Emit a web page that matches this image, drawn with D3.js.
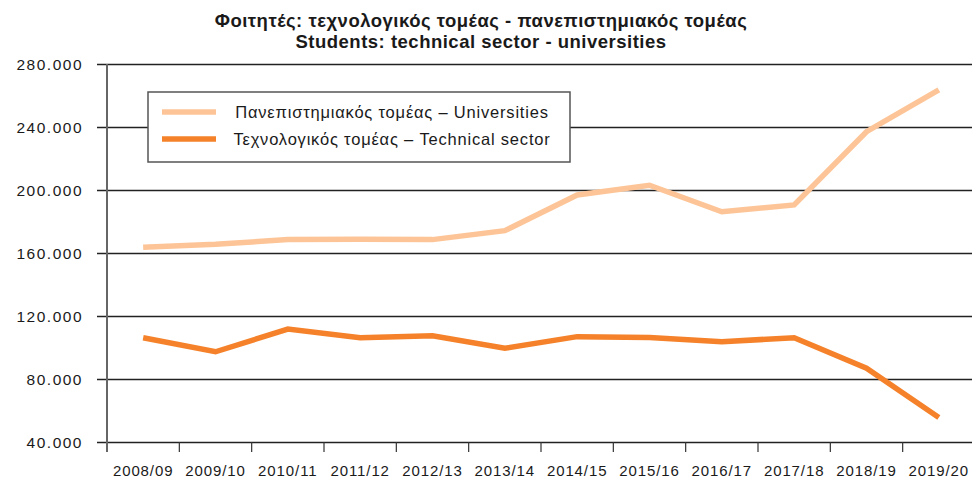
<!DOCTYPE html>
<html>
<head>
<meta charset="utf-8">
<script src="https://cdn.jsdelivr.net/npm/d3@7"></script>
<style>
  body { margin: 0; background: #fff; }
  text { font-family: "Liberation Sans", Arial, sans-serif; fill: #1a1a1a; }
</style>
</head>
<body>
<svg id="chart"></svg>
<script>
const years = ["2008/09", "2009/10", "2010/11", "2011/12", "2012/13", "2013/14",
  "2014/15", "2015/16", "2016/17", "2017/18", "2018/19", "2019/20"];
const universities = [163600, 165500, 168500, 168700, 168500, 174200,
  196800, 203000, 186200, 190500, 237000, 263500];
const technical = [106200, 97300, 111700, 106200, 107400, 99500,
  106900, 106400, 103700, 106200, 86800, 55600];
const yTicks = [40000, 80000, 120000, 160000, 200000, 240000, 280000];
const titleLines = [
  "Φοιτητές: τεχνολογικός τομέας - πανεπιστημιακός τομέας",
  "Students: technical sector - universities",
];
const seriesNames = [
  "Πανεπιστημιακός τομέας – Universities",
  "Τεχνολογικός τομέας – Technical sector",
];

const drawWidth = 972;
const drawHeight = 481;
const margin = { top: 64, right: -3, bottom: 39, left: 107 };
const width = drawWidth - margin.left - margin.right;
const height = drawHeight - margin.top - margin.bottom;

const uniColor = "#fdc597";
const techColor = "#f5822a";

const locale = d3.formatLocale({ decimal: ",", thousands: ".", grouping: [3], currency: ["€", ""] });
const formatNum = locale.format(",.0f");

const svg = d3.select("#chart")
  .attr("width", drawWidth)
  .attr("height", drawHeight);

// title
svg.append("g")
  .selectAll("text")
  .data(titleLines)
  .join("text")
  .attr("x", 481)
  .attr("y", (d, i) => 27 + i * 21)
  .attr("text-anchor", "middle")
  .style("font-weight", "bold")
  .style("font-size", "18.5px")
  .style("letter-spacing", "0.5px")
  .text((d) => d);

const g = svg.append("g")
  .attr("transform", "translate(" + margin.left + "," + margin.top + ")");

const xScale = d3.scaleBand()
  .domain(years)
  .range([0, width]);

const yScale = d3.scaleLinear()
  .domain([40000, 280000])
  .range([height, 0]);

// gridlines + y ticks
const yAxis = d3.axisLeft(yScale)
  .tickValues(yTicks)
  .tickFormat(formatNum)
  .tickSizeInner(-width)
  .tickSizeOuter(0)
  .tickPadding(24);

const yG = g.append("g").attr("class", "y axis").call(yAxis);
yG.select(".domain").remove();
yG.selectAll(".tick line")
  .attr("x1", -10)
  .attr("stroke", "#222")
  .attr("stroke-width", 1.3);
yG.selectAll(".tick text")
  .attr("dy", "0.36em")
  .style("font-size", "15.5px")
  .style("letter-spacing", "1.5px")
  .style("font-family", "'Liberation Sans', Arial, sans-serif")
  .attr("fill", "#1a1a1a");

// x axis ticks at band edges
const edges = years.map((d) => xScale(d));
g.append("g")
  .selectAll("line")
  .data(edges)
  .join("line")
  .attr("x1", (d) => d)
  .attr("x2", (d) => d)
  .attr("y1", height)
  .attr("y2", height + 10)
  .attr("stroke", "#333")
  .attr("stroke-width", 1.2);

g.append("g")
  .selectAll("text")
  .data(years)
  .join("text")
  .attr("x", (d) => xScale(d) + xScale.bandwidth() / 2)
  .attr("y", height + 34)
  .attr("text-anchor", "middle")
  .style("font-size", "15px")
  .style("letter-spacing", "0.9px")
  .text((d) => d);

// y axis line
g.append("line")
  .attr("x1", 0)
  .attr("x2", 0)
  .attr("y1", 0)
  .attr("y2", height + 10)
  .attr("stroke", "#666")
  .attr("stroke-width", 2);

const line = d3.line()
  .x((d, i) => xScale(years[i]) + xScale.bandwidth() / 2)
  .y((d) => yScale(d));

g.append("path")
  .datum(universities)
  .attr("fill", "none")
  .attr("stroke", uniColor)
  .attr("stroke-width", 5.5)
  .attr("d", line);

g.append("path")
  .datum(technical)
  .attr("fill", "none")
  .attr("stroke", techColor)
  .attr("stroke-width", 5.5)
  .attr("d", line);

// legend
const legend = svg.append("g").attr("transform", "translate(148,92)");
legend.append("rect")
  .attr("width", 422)
  .attr("height", 70)
  .attr("fill", "#fff")
  .attr("stroke", "#555")
  .attr("stroke-width", 1.5);

const legendItems = legend.selectAll(".item")
  .data([uniColor, techColor])
  .join("g")
  .attr("class", "item")
  .attr("transform", (d, i) => "translate(0," + (20 + i * 27) + ")");

legendItems.append("line")
  .attr("x1", 14)
  .attr("x2", 68)
  .attr("stroke", (d) => d)
  .attr("stroke-width", 5.5);

legendItems.append("text")
  .attr("x", 244)
  .attr("dy", "0.36em")
  .attr("text-anchor", "middle")
  .style("font-size", "16.5px")
  .style("letter-spacing", "0.8px")
  .text((d, i) => seriesNames[i]);
</script>
</body>
</html>
